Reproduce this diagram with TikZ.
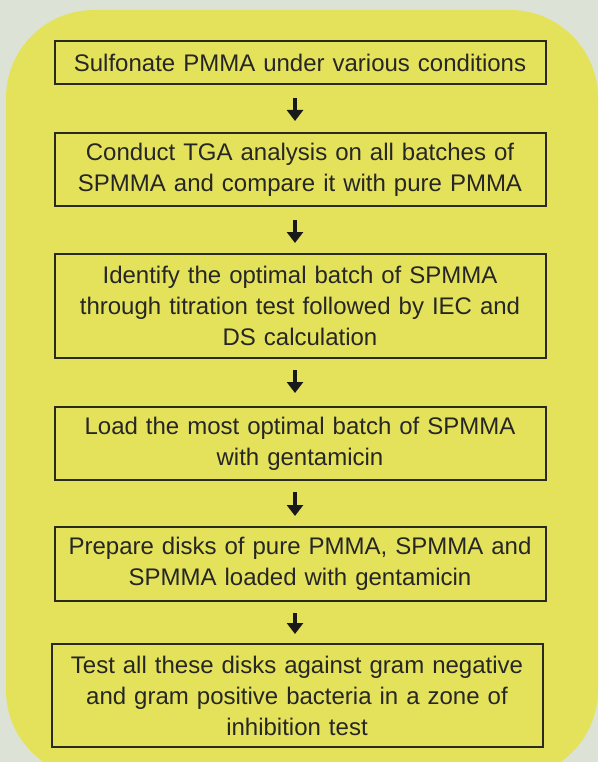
\documentclass[tikz,border=0pt]{standalone}
\usepackage{fontspec}
\setmainfont{Liberation Sans}
\usetikzlibrary{arrows.meta}
\definecolor{bggreen}{HTML}{DCE3D6}
\definecolor{panelyellow}{HTML}{E4E25A}
\definecolor{boxline}{HTML}{2A2A22}

\begin{document}
\begin{tikzpicture}[x=1pt,y=1pt,
  stepbox/.style={draw=boxline, line width=2pt, fill=panelyellow, text=black!85,
    minimum width=491pt, text width=475pt, inner sep=0pt, align=center,
    font=\fontsize{24}{31}\selectfont},
  flowarrow/.style={-{Triangle[width=16pt,length=11pt]}, line width=4.5pt,
    black!90}]
\useasboundingbox (0,0) rectangle (598,-762);
\fill [bggreen] (0,0) rectangle (598,-762);
\clip (0,0) rectangle (598,-762);
\fill [panelyellow, rounded corners=88pt] (6,-10) rectangle (598,-778);
% steps
\node [stepbox, minimum height=43pt] (sulfonate) at (300,-62.5)
  {Sulfonate PMMA under various conditions};
\node [stepbox, minimum height=73pt] (tga) at (300,-169.5)
  {Conduct TGA analysis on all batches of\\SPMMA and compare it with pure PMMA};
\node [stepbox, minimum height=104pt] (optimal) at (300,-306)
  {Identify the optimal batch of SPMMA\\through titration test followed by IEC and\\DS calculation};
\node [stepbox, minimum height=73pt] (load) at (300,-443.5)
  {Load the most optimal batch of SPMMA\\with gentamicin};
\node [stepbox, minimum height=74pt] (disks) at (300,-564)
  {Prepare disks of pure PMMA, SPMMA and\\SPMMA loaded with gentamicin};
\node [stepbox, minimum height=103pt] (inhibition) at (297,-695.5)
  {Test all these disks against gram negative\\and gram positive bacteria in a zone of\\inhibition test};
% arrows (start gap / end gap)
\foreach \a/\b/\s/\e in {sulfonate/tga/13/11, tga/optimal/13/10, optimal/load/11/13,
    load/disks/11/10, disks/inhibition/11/9}
  \draw [flowarrow, shorten <=\s pt, shorten >=\e pt]
    ([xshift=-5pt]\a.south) -- ([xshift=-5pt]\a.south |- \b.north);
\end{tikzpicture}
\end{document}
